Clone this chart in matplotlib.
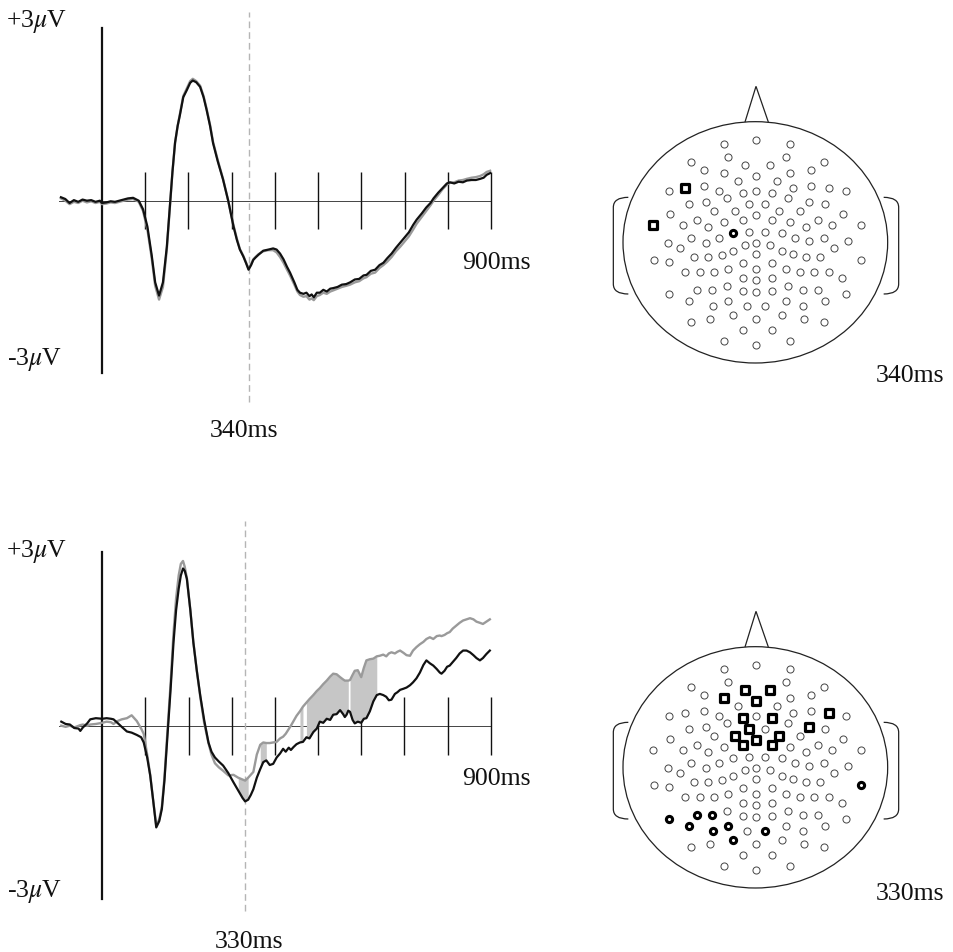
import numpy as np
import matplotlib
matplotlib.use("Agg")
import matplotlib.pyplot as plt
from matplotlib.patches import Ellipse, Polygon, PathPatch
from matplotlib.path import Path

plt.rcParams['font.family'] = ['Liberation Serif', 'DejaVu Serif']
plt.rcParams['mathtext.fontset'] = 'stix'

W, H = 954, 953

# ---- ERP waveforms (ms, microvolts) ----
TOP_T = [-95, -85, -75, -65, -55, -45, -35, -25, -15, -5, 0, 10, 20, 30, 40, 50, 60, 72, 85, 95,
         105, 115, 123, 132, 141, 150, 157, 163, 169, 175, 180, 188, 196, 204, 210, 218, 227, 235,
         242, 250, 257, 268, 280, 292, 304, 312, 319, 327, 333, 339, 345, 350, 355, 362, 373, 385,
         396, 404, 412, 420, 428, 435, 445, 452, 458, 466, 473, 480, 485, 490, 497, 504, 512, 520,
         528, 535, 545, 555, 565, 574, 585, 595, 605, 612, 622, 632, 642, 651, 660, 670, 680, 690,
         700, 710, 720, 728, 740, 750, 760, 767, 778, 788, 798, 805, 815, 825, 835, 844, 855, 865,
         875, 883, 890, 898]
TOP_BLACK = [0.06, 0.03, -0.04, 0.01, -0.02, 0.02, 0.0, 0.01, -0.02, 0.0, -0.04, -0.03, -0.01,
             -0.02, 0.0, 0.02, 0.04, 0.05, 0.0, -0.15, -0.45, -0.95, -1.42, -1.65, -1.42, -0.8,
             -0.1, 0.5, 1.01, 1.3, 1.48, 1.8, 1.92, 2.05, 2.09, 2.06, 1.98, 1.8, 1.58, 1.3, 1.0,
             0.68, 0.37, 0.0, -0.44, -0.68, -0.85, -0.97, -1.08, -1.2, -1.12, -1.03, -0.99, -0.94,
             -0.87, -0.85, -0.83, -0.85, -0.92, -1.02, -1.15, -1.25, -1.42, -1.55, -1.6, -1.62,
             -1.6, -1.66, -1.63, -1.68, -1.6, -1.6, -1.55, -1.58, -1.53, -1.52, -1.5, -1.46,
             -1.45, -1.42, -1.37, -1.36, -1.3, -1.29, -1.22, -1.2, -1.12, -1.08, -1.0, -0.92,
             -0.82, -0.73, -0.64, -0.55, -0.42, -0.33, -0.22, -0.12, -0.04, 0.04, 0.14, 0.22,
             0.3, 0.32, 0.3, 0.33, 0.32, 0.35, 0.36, 0.36, 0.38, 0.4, 0.45, 0.48]
TOP_GREY = [0.04, 0.0, -0.06, -0.02, -0.04, 0.0, -0.03, -0.01, -0.04, -0.02, -0.06, -0.05, -0.03,
            -0.04, -0.02, 0.0, 0.02, 0.03, -0.02, -0.18, -0.5, -1.0, -1.48, -1.72, -1.5, -0.85,
            -0.12, 0.5, 1.0, 1.3, 1.5, 1.82, 1.95, 2.08, 2.12, 2.08, 2.0, 1.82, 1.6, 1.32, 1.02,
            0.7, 0.38, 0.0, -0.42, -0.66, -0.84, -0.96, -1.07, -1.18, -1.1, -1.02, -0.98, -0.93,
            -0.88, -0.86, -0.86, -0.9, -0.98, -1.08, -1.2, -1.3, -1.46, -1.58, -1.64, -1.67,
            -1.66, -1.72, -1.7, -1.73, -1.66, -1.64, -1.6, -1.62, -1.58, -1.56, -1.53, -1.5,
            -1.48, -1.46, -1.42, -1.4, -1.35, -1.33, -1.27, -1.25, -1.17, -1.12, -1.06, -0.98,
            -0.88, -0.8, -0.71, -0.62, -0.5, -0.4, -0.28, -0.18, -0.08, 0.0, 0.1, 0.2,
            0.28, 0.31, 0.32, 0.35, 0.36, 0.38, 0.4, 0.41, 0.43, 0.46, 0.5, 0.52]

BOT_T = [-95, -85, -75, -65, -55, -51, -45, -35, -28, -15, 0, 10, 20, 26, 35, 45, 57, 68, 80, 90,
         96, 104, 111, 118, 125, 132, 138, 144, 150, 158, 165, 171, 177, 182, 187, 191, 196, 204,
         211, 219, 227, 236, 246, 253, 261, 270, 280, 292, 304, 315, 325, 331, 338, 344, 350, 358,
         366, 373, 380, 388, 396, 404, 412, 419, 425, 432, 437, 443, 450, 458, 465, 473, 480, 489,
         497, 504, 512, 520, 528, 535, 543, 551, 558, 562, 566, 570, 574, 580, 585, 592, 600, 606,
         612, 620, 628, 636, 643, 651, 658, 664, 670, 678, 684, 690, 698, 705, 713, 720, 728, 736,
         744, 751, 759, 767, 775, 782, 786, 793, 799, 805, 812, 820, 828, 836, 844, 852, 860, 867,
         875, 882, 890, 898]
BOT_BLACK = [0.07, 0.03, 0.02, -0.04, -0.05, -0.09, -0.03, 0.04, 0.11, 0.13, 0.12, 0.13, 0.12,
             0.11, 0.05, -0.02, -0.1, -0.12, -0.16, -0.2, -0.29, -0.55, -0.86, -1.3, -1.76, -1.65,
             -1.44, -0.95, -0.29, 0.6, 1.44, 2.0, 2.37, 2.6, 2.72, 2.68, 2.54, 2.0, 1.44, 0.95,
             0.52, 0.1, -0.29, -0.45, -0.55, -0.62, -0.69, -0.82, -0.98, -1.12, -1.25, -1.31,
             -1.28, -1.2, -1.1, -0.9, -0.75, -0.63, -0.6, -0.68, -0.66, -0.55, -0.48, -0.4, -0.45,
             -0.38, -0.42, -0.37, -0.32, -0.29, -0.28, -0.2, -0.22, -0.11, -0.05, 0.07, 0.05,
             0.12, 0.1, 0.19, 0.2, 0.27, 0.2, 0.15, 0.19, 0.26, 0.24, 0.1, 0.04, 0.07, 0.05,
             0.12, 0.13, 0.25, 0.42, 0.53, 0.55, 0.53, 0.5, 0.44, 0.45, 0.55, 0.58, 0.62, 0.64,
             0.66, 0.7, 0.75, 0.82, 0.92, 1.05, 1.13, 1.08, 1.04, 0.98, 0.92, 0.9, 0.95, 1.02,
             1.04, 1.1, 1.17, 1.25, 1.3, 1.3, 1.27, 1.22, 1.17, 1.13, 1.17, 1.24, 1.3]
BOT_GREY = [0.0, -0.02, 0.0, -0.03, 0.0, 0.01, 0.02, 0.0, 0.02, 0.03, 0.05, 0.07, 0.06, 0.03,
            0.08, 0.11, 0.13, 0.18, 0.08, -0.05, -0.14, -0.5, -0.85, -1.3, -1.72, -1.62, -1.4,
            -0.9, -0.2, 0.7, 1.6, 2.2, 2.6, 2.8, 2.85, 2.75, 2.55, 2.0, 1.45, 0.95, 0.5, 0.05,
            -0.3, -0.5, -0.65, -0.72, -0.78, -0.86, -0.85, -0.9, -0.93, -0.95, -0.9, -0.85,
            -0.8, -0.5, -0.33, -0.29, -0.3, -0.3, -0.29, -0.28, -0.22, -0.19, -0.14, -0.06, 0.0,
            0.08, 0.17, 0.25, 0.33, 0.4, 0.46, 0.53, 0.6, 0.65, 0.72, 0.78, 0.85, 0.9, 0.89,
            0.84, 0.8, 0.78, 0.78, 0.78, 0.79, 0.88, 0.95, 0.96, 0.84, 1.0, 1.13, 1.15, 1.16,
            1.2, 1.21, 1.23, 1.2, 1.25, 1.27, 1.25, 1.28, 1.3, 1.26, 1.22, 1.21, 1.3, 1.36,
            1.41, 1.45, 1.5, 1.53, 1.5, 1.55, 1.56, 1.55, 1.57, 1.6, 1.62, 1.68, 1.73, 1.78,
            1.82, 1.84, 1.86, 1.84, 1.8, 1.78, 1.76, 1.8, 1.84]
# windows where the two conditions differ (shaded)
BOT_SIG = [(315, 338), (366, 380), (458, 465), (473, 570), (574, 636)]

TICK_MS = [100, 200, 300, 400, 500, 600, 700, 800, 900]
LATENCY = [340, 330]

# ---- electrode layout (head units, nose up) ----
ELEC_X = [0, -95, 103, -85, 89, -195, 203, -33, 41, -155, 165, -95, 103, 0, -55, 62, -155, 165,
          -212, 110, 220, -260, -111, 0, 270, -40, 47, -88, 97, -150, 159, -202, -22, 28, 207,
          -125, -62, 70, 132, -257, 262, 0, -178, -40, 47, 187, -95, 103, -308, -220, 229, 314,
          -143, 150, -70, -22, 28, 77, -195, -110, 117, 203, -150, 159, -265, 275, 0, -33, 41,
          -227, 235, -70, 77, -103, 0, 110, -185, -145, 150, 192, -305, 314, -260, -40, 47, -85,
          0, 89, -212, -168, -125, 132, 175, 220, -40, 0, 47, 257, -88, 97, -178, -133, -40, 0,
          47, 140, 187, -260, 270, -202, -85, 89, 207, -130, -28, 28, 140, -70, 77, -138, 0, 145,
          -195, 203, -40, 47, -95, 103, 0]
ELEC_Y = [308, 294, 294, 257, 257, 240, 240, 232, 232, 218, 218, 208, 208, 198, 185, 185, 168, 168,
          162, 162, 162, 155, 155, 155, 155, 148, 148, 133, 133, 122, 122, 115, 115, 115, 115,
          93, 93, 93, 93, 85, 85, 82, 68, 68, 68, 68, 60, 60, 53, 53, 53, 53, 47, 47, 27, 30, 30,
          27, 12, 12, 12, 12, -2, 3, -2, 3, -3, -8, -8, -18, -18, -27, -27, -37, -35, -35, -45,
          -45, -45, -45, -52, -52, -58, -63, -63, -80, -80, -80, -88, -90, -90, -90, -90, -88,
          -107, -112, -107, -107, -130, -130, -143, -143, -146, -150, -146, -143, -143, -155,
          -155, -175, -175, -175, -175, -191, -191, -191, -191, -217, -217, -230, -230, -230,
          -238, -238, -263, -263, -295, -295, -308]

TOP_SQUARES = [18, 48]
TOP_BOLD = [54]
BOT_SQUARES = [7, 8, 11, 13, 20, 25, 26, 30, 32, 36, 37, 41, 43, 44]
BOT_BOLD = [81, 100, 101, 107, 109, 110, 113, 115, 117]

BLACK = '#111111'
GREY = '#9a9a9a'
FILL = '#c6c6c6'
FS = 18.5

fig = plt.figure(figsize=(W / 100, H / 100), dpi=100)


def pix_axes(x0, y0, x1, y1):
    ax = fig.add_axes([x0 / W, 1 - y1 / H, (x1 - x0) / W, (y1 - y0) / H])
    ax.set_axis_off()
    return ax


def ftext(x, y, s, ha='center'):
    fig.text(x / W, 1 - y / H, s, ha=ha, va='baseline', fontsize=FS, color='#111111')


def erp_panel(top, bot, zero_y, ppu, t0_px, ppm, t, black, grey, lat, dash, sig=None):
    ax = pix_axes(0, top, 520, bot)
    ax.set_xlim((0 - t0_px) / ppm, (520 - t0_px) / ppm)
    ax.set_ylim((zero_y - bot) / ppu, (zero_y - top) / ppu)
    ax.plot([-100, 900], [0, 0], color='#444444', lw=0.7, zorder=1)
    ax.vlines(TICK_MS, -0.5, 0.5, color=BLACK, lw=1.0, zorder=1)
    ax.plot([0, 0], [-3, 3], color=BLACK, lw=1.6, zorder=2)
    ax.plot([lat, lat], [(zero_y - dash[1]) / ppu, (zero_y - dash[0]) / ppu],
            color='#b5b5b5', lw=1.0, dashes=(4.8, 2.9), zorder=1)
    t = np.array(t)
    black = np.array(black)
    grey = np.array(grey)
    if sig:
        for a, b in sig:
            m = (t >= a) & (t <= b)
            ax.fill_between(t[m], black[m], grey[m], color=FILL, lw=0, zorder=2)
    ax.plot(t, grey, color=GREY, lw=1.7, zorder=3)
    ax.plot(t, black, color=BLACK, lw=1.6, zorder=4)
    return ax


def head(top):
    ax = pix_axes(600, top, 950, top + 320)
    ax.set_xlim(-468, 582)
    ax.set_ylim(-470, 490)
    ax.add_patch(Ellipse((-2, 0), 794, 724, fill=False, ec='#222222', lw=0.9))
    ax.add_patch(Polygon([(-33, 361), (0, 468), (37, 361)], closed=False, fill=False,
                         ec='#222222', lw=0.9))
    for s in (-1, 1):
        verts = [(s * 383, 135), (s * 428, 135), (s * 428, 105), (s * 428, -125),
                 (s * 428, -155), (s * 383, -155)]
        codes = [Path.MOVETO, Path.CURVE3, Path.CURVE3, Path.LINETO, Path.CURVE3, Path.CURVE3]
        ax.add_patch(PathPatch(Path(verts, codes), fill=False, ec='#222222', lw=0.9))
    return ax


def electrodes(ax, squares, bold):
    x = np.array(ELEC_X)
    y = np.array(ELEC_Y)
    plain = [i for i in range(len(x)) if i not in squares and i not in bold]
    ax.scatter(x[plain], y[plain], s=26, facecolor='white', edgecolor='#444444', lw=0.7, zorder=3)
    ax.scatter(x[squares], y[squares], s=30, marker='s', facecolor='white', edgecolor='black',
               lw=2.3, zorder=4)
    ax.scatter(x[bold], y[bold], s=20, facecolor='white', edgecolor='black', lw=2.2, zorder=4)


# top row
erp_panel(0, 450, 201.7, 57.5, 102, 389 / 900, TOP_T, TOP_BLACK, TOP_GREY, LATENCY[0], (13, 403))
ftext(37, 27, '+3$\\mu$V')
ftext(35, 365, '-3$\\mu$V')
ftext(496, 269, '900ms')
ftext(244, 437, '340ms')
hax = head(80)
electrodes(hax, TOP_SQUARES, TOP_BOLD)
ftext(910, 382, '340ms')

# bottom row
erp_panel(500, 953, 726.7, 57.8, 102.3, 388.4 / 900, BOT_T, BOT_BLACK, BOT_GREY, LATENCY[1],
          (522, 912), sig=BOT_SIG)
ftext(37, 557, '+3$\\mu$V')
ftext(35, 897, '-3$\\mu$V')
ftext(496, 785, '900ms')
ftext(249, 948, '330ms')
hax = head(605)
electrodes(hax, BOT_SQUARES, BOT_BOLD)
ftext(910, 900, '330ms')

fig.savefig('out.png', dpi=100, facecolor='white')
